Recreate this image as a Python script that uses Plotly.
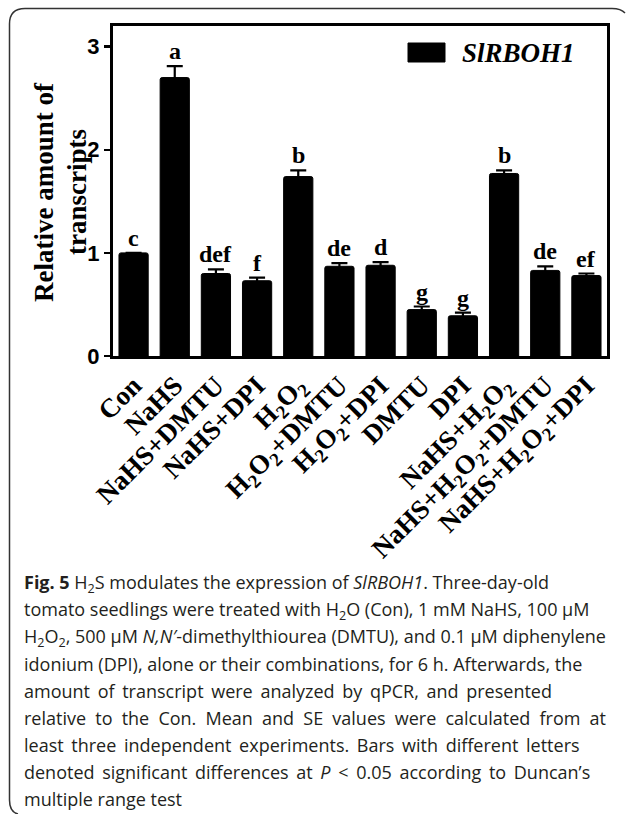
import plotly.graph_objects as go

# ---------------- data ----------------
categories = ["Con", "NaHS", "NaHS+DMTU", "NaHS+DPI",
              "H<sub>2</sub>O<sub>2</sub>", "H<sub>2</sub>O<sub>2</sub>+DMTU",
              "H<sub>2</sub>O<sub>2</sub>+DPI", "DMTU", "DPI",
              "NaHS+H<sub>2</sub>O<sub>2</sub>",
              "NaHS+H<sub>2</sub>O<sub>2</sub>+DMTU",
              "NaHS+H<sub>2</sub>O<sub>2</sub>+DPI"]
values = [1.00, 2.70, 0.80, 0.73, 1.74, 0.87, 0.88, 0.45, 0.39, 1.77, 0.83, 0.78]
errors = [0.00, 0.11, 0.04, 0.03, 0.06, 0.03, 0.03, 0.03, 0.03, 0.03, 0.04, 0.02]
letters = ["c", "a", "def", "f", "b", "de", "d", "g", "g", "b", "de", "ef"]
series_name = "SlRBOH1"
y_ticks = [0, 1, 2, 3]
y_title_lines = ["Relative amount of", "transcripts"]

TS = "\u2009"   # thin space used to widen justified caption lines
MS = "\u2005"   # four-per-em space
caption_lines = [
    "<b>Fig. 5</b> H<sub>2</sub>S modulates the expression of <i>SlRBOH1</i>. Three-day-old",
    "tomato seedlings were treated with H<sub>2</sub>O (Con), 1 mM NaHS, 100 μM",
    "H<sub>2</sub>O<sub>2</sub>, 500 μM <i>N,N′</i>-dimethylthiourea (DMTU), and 0.1 μM diphenylene",
    "idonium (DPI), alone or their combinations, for 6 h. Afterwards, the",
    "amount of transcript were analyzed by qPCR, and presented".replace(" ", " " + TS),
    "relative to the Con. Mean and SE values were calculated from at".replace(" ", " " + MS),
    "least three independent experiments. Bars with different letters".replace(" ", " " + TS),
    "denoted significant differences at <i>P</i> &lt; 0.05 according to Duncan’s".replace(" ", " " + TS),
    "multiple range test",
]

# ---------------- layout geometry (px) ----------------
W, H = 627, 814
PL, PR, PT, PB = 113, 607, 26, 356


def px_x(px):
    return (px - PL) / (PR - PL)


def px_y(py):
    return (PB - py) / (PB - PT)


x_idx = list(range(len(categories)))

fig = go.Figure()
fig.add_trace(go.Bar(
    x=x_idx, y=values, width=0.71,
    marker=dict(color="black", line=dict(color="black", width=1), cornerradius=2),
    error_y=dict(type="data", array=errors, visible=True,
                 color="black", thickness=2.2, width=8),
    name=series_name, showlegend=False, hoverinfo="skip",
))

serif_bold = dict(family="Liberation Serif, Times New Roman, serif", color="black", weight="bold")

annotations = []
for i, (v, e, lt) in enumerate(zip(values, errors, letters)):
    annotations.append(dict(
        x=i, y=v + e, xref="x", yref="y", text=lt, showarrow=False,
        yanchor="bottom", xanchor="center", yshift=0,
        font=dict(size=24, **serif_bold)))

# y-axis title (two rotated lines)
for txt, cx in zip(y_title_lines, [44, 77]):
    annotations.append(dict(
        x=px_x(cx), y=px_y(192), xref="paper", yref="paper",
        text=txt, showarrow=False, textangle=-90,
        xanchor="center", yanchor="middle",
        font=dict(size=27, **serif_bold)))

# legend text
annotations.append(dict(
    x=px_x(460), y=px_y(53), xref="paper", yref="paper",
    text=series_name, showarrow=False, xanchor="left", yanchor="middle",
    font=dict(size=27, family="Liberation Serif, Times New Roman, serif",
              color="black", weight="bold", style="italic")))

# caption
cap_y0, cap_dy = 583, 27.0
for k, line in enumerate(caption_lines):
    annotations.append(dict(
        x=px_x(22), y=px_y(cap_y0 + k * cap_dy), xref="paper", yref="paper",
        text=line, showarrow=False, xanchor="left", yanchor="middle",
        font=dict(size=18, family="Open Sans, sans-serif", color="#231f20")))

shapes = [
    # legend swatch
    dict(type="rect", xref="paper", yref="paper",
         x0=px_x(408), x1=px_x(445), y0=px_y(62), y1=px_y(43),
         fillcolor="black", line=dict(color="black", width=1)),
    # outer figure frame (rounded, open at right/bottom)
    dict(type="path", xref="paper", yref="paper",
         path=(f"M {px_x(625)},{px_y(13)} Q {px_x(621)},{px_y(8.5)} {px_x(612)},{px_y(8.5)} "
               f"L {px_x(25)},{px_y(8.5)} Q {px_x(9.5)},{px_y(8.5)} {px_x(9.5)},{px_y(24)} "
               f"L {px_x(9.5)},{px_y(800)} Q {px_x(9.5)},{px_y(812)} {px_x(18)},{px_y(814)}"),
         line=dict(color="#333333", width=1.5)),
]

fig.update_layout(
    width=W, height=H,
    margin=dict(l=PL, r=W - PR, t=PT, b=H - PB, pad=0),
    paper_bgcolor="white", plot_bgcolor="white",
    annotations=annotations, shapes=shapes,
    xaxis=dict(
        range=[-0.5, len(categories) - 0.5],
        tickmode="array", tickvals=x_idx, ticktext=categories,
        tickangle=-45, ticks="", showgrid=False, zeroline=False,
        showline=True, linecolor="black", linewidth=3, mirror=True,
        tickfont=dict(size=27, **serif_bold),
    ),
    yaxis=dict(
        range=[0, 3.2], tickmode="array", tickvals=y_ticks,
        ticks="outside", ticklen=6, tickwidth=2.5, tickcolor="black",
        showgrid=False, zeroline=False,
        showline=True, linecolor="black", linewidth=3, mirror=True,
        tickfont=dict(size=22, family="Liberation Sans, Arial, sans-serif",
                      color="black", weight="bold"),
    ),
)

fig.write_html("out.html",
               config={"displayModeBar": False, "staticPlot": True},
               post_script="document.body.style.margin='0';document.body.style.overflow='hidden';")
